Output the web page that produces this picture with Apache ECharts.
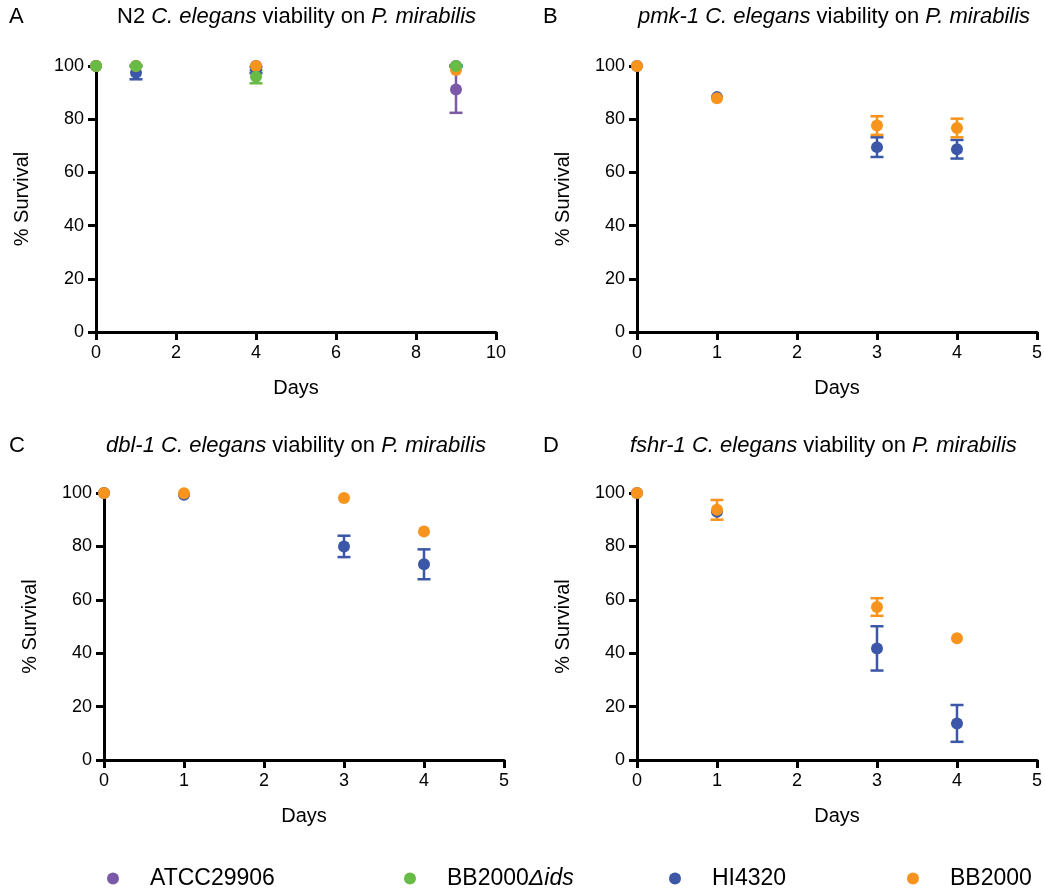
<!DOCTYPE html>
<html><head><meta charset="utf-8">
<script src="https://cdn.jsdelivr.net/npm/echarts@6/dist/echarts.min.js"></script>
<style>html,body{margin:0;padding:0;background:#fff}#c{width:1045px;height:892px}</style>
</head><body><div id="c"></div>
<script>
// ---- data ----
const strains = ['ATCC29906', 'BB2000Δids', 'HI4320', 'BB2000'];
const colors = {'ATCC29906':'#7b59a8','BB2000Δids':'#68bc45','HI4320':'#3c57a7','BB2000':'#f7941e'};

const daysA = [0, 1, 4, 9];
const A_ATCC = [100, 100, 100, 91.2];   const A_ATCC_err = [0, 0, 0, 8.8];
const A_HI = [100, 97.5, 98.5, 100];    const A_HI_err = [0, 2.5, 1.2, 0.3];
const A_BB = [100, 100, 100, 98.5];     const A_BB_err = [0, 0, 0, 0];
const A_IDS = [100, 100, 96, 100];      const A_IDS_err = [0, 0.3, 2.5, 0.3];

const daysB = [0, 1, 3, 4];
const B_HI = [100, 88.3, 69.5, 68.7];   const B_HI_err = [0, 0, 3.7, 3.5];
const B_BB = [100, 87.9, 77.6, 76.7];   const B_BB_err = [0, 0, 3.5, 3.5];

const daysC = [0, 1, 3, 4];
const C_HI = [100, 99.3, 80, 73.3];     const C_HI_err = [0, 0, 4, 5.6];
const C_BB = [100, 99.9, 98.1, 85.6];   const C_BB_err = [0, 0, 0, 0];

const daysD = [0, 1, 3, 4];
const D_HI = [100, 93, 41.8, 13.7];     const D_HI_err = [0, 0, 8.3, 6.9];
const D_BB = [100, 93.7, 57.3, 45.6];   const D_BB_err = [0, 3.7, 3.3, 0];

const yTicks = [0, 20, 40, 60, 80, 100];

// ---- build ----
const FONT = 'Liberation Sans, Arial, sans-serif';
const grids = [
  {left: 96, top: 66, width: 400, height: 266},
  {left: 637, top: 66, width: 400, height: 266},
  {left: 104, top: 493, width: 400, height: 267},
  {left: 637, top: 493, width: 400, height: 267}
];
const xMax = [10, 5, 5, 5], xInt = [2, 1, 1, 1];

const axisCommon = {
  axisLine: {show: true, onZero: false, lineStyle: {color: '#000', width: 3}},
  axisTick: {show: true, length: 8, lineStyle: {color: '#000', width: 3}},
  axisLabel: {color: '#000', fontSize: 18, fontFamily: FONT, margin: 12},
  splitLine: {show: false},
  nameTextStyle: {color: '#000', fontSize: 20, fontFamily: FONT}
};
const xAxes = grids.map((g, i) => Object.assign({}, axisCommon, {
  type: 'value', gridIndex: i, min: 0, max: xMax[i], interval: xInt[i],
  name: 'Days', nameLocation: 'middle', nameGap: 46
}));
const yAxes = grids.map((g, i) => Object.assign({}, axisCommon, {
  type: 'value', gridIndex: i, min: yTicks[0], max: yTicks[yTicks.length - 1], interval: 20,
  name: '% Survival', nameLocation: 'middle', nameGap: 64
}));

const series = [];
function addStrain(panel, name, days, vals, errs) {
  const col = colors[name];
  const errData = days.map((d, k) => [d, vals[k], errs[k]]).filter(r => r[2] > 0);
  series.push({
    type: 'custom', name: name, xAxisIndex: panel, yAxisIndex: panel, clip: false,
    silent: true,
    data: errData,
    encode: {x: 0, y: 1},
    renderItem: function (params, api) {
      const x = api.value(0), y = api.value(1), e = api.value(2);
      const top = api.coord([x, y + e]), bot = api.coord([x, y - e]);
      const w = 6.5;
      const st = {stroke: col, lineWidth: 2.5};
      return {type: 'group', children: [
        {type: 'line', shape: {x1: top[0], y1: top[1], x2: bot[0], y2: bot[1]}, style: st},
        {type: 'line', shape: {x1: top[0] - w, y1: top[1], x2: top[0] + w, y2: top[1]}, style: st},
        {type: 'line', shape: {x1: bot[0] - w, y1: bot[1], x2: bot[0] + w, y2: bot[1]}, style: st}
      ]};
    }
  });
  series.push({
    type: 'scatter', name: name, xAxisIndex: panel, yAxisIndex: panel, clip: false,
    symbol: 'circle', symbolSize: 12,
    itemStyle: {color: col, opacity: 1},
    data: days.map((d, k) => [d, vals[k]])
  });
}
addStrain(0, 'ATCC29906', daysA, A_ATCC, A_ATCC_err);
addStrain(0, 'HI4320', daysA, A_HI, A_HI_err);
addStrain(0, 'BB2000', daysA, A_BB, A_BB_err);
addStrain(0, 'BB2000Δids', daysA, A_IDS, A_IDS_err);
addStrain(1, 'HI4320', daysB, B_HI, B_HI_err);
addStrain(1, 'BB2000', daysB, B_BB, B_BB_err);
addStrain(2, 'HI4320', daysC, C_HI, C_HI_err);
addStrain(2, 'BB2000', daysC, C_BB, C_BB_err);
addStrain(3, 'HI4320', daysD, D_HI, D_HI_err);
addStrain(3, 'BB2000', daysD, D_BB, D_BB_err);

const TS = 22;
const titleRich = {
  n: {fontSize: TS, fontFamily: FONT, color: '#000'},
  i: {fontSize: TS, fontFamily: FONT, color: '#000', fontStyle: 'italic'}
};
function title(text, left, top) {
  return {text: text, left: left, top: top, padding: 0,
    textStyle: {fontSize: TS, fontWeight: 'normal', fontFamily: FONT, color: '#000', rich: titleRich}};
}
const titles = [
  title('{n|A}', 9, 6), title('{n|N2 }{i|C. elegans}{n| viability on }{i|P. mirabilis}', 117, 6),
  title('{n|B}', 543, 6), title('{i|pmk-1 C. elegans}{n| viability on }{i|P. mirabilis}', 638, 6),
  title('{n|C}', 9, 435), title('{i|dbl-1 C. elegans}{n| viability on }{i|P. mirabilis}', 106, 435),
  title('{n|D}', 543, 435), title('{i|fshr-1 C. elegans}{n| viability on }{i|P. mirabilis}', 630, 435)
];

const legendX = [107, 404, 669, 907];
const legends = strains.map((s, k) => ({
  data: [s], left: legendX[k], top: 867, itemWidth: 12, itemHeight: 12, itemGap: 0,
  icon: 'circle', selectedMode: false, padding: 0,
  formatter: s === 'BB2000Δids' ? '{n|BB2000}{i|Δids}' : '{n|' + s + '}',
  textStyle: {padding: [0, 0, 0, 26], rich: {
    n: {fontSize: 23, fontFamily: FONT, color: '#000'},
    i: {fontSize: 23, fontFamily: FONT, color: '#000', fontStyle: 'italic'}
  }},
  itemStyle: {color: colors[s]}
}));

const chart = echarts.init(document.getElementById('c'), null, {renderer: 'canvas'});
chart.setOption({
  animation: false,
  backgroundColor: '#fff',
  title: titles,
  legend: legends,
  grid: grids,
  xAxis: xAxes,
  yAxis: yAxes,
  series: series
});
</script></body></html>
